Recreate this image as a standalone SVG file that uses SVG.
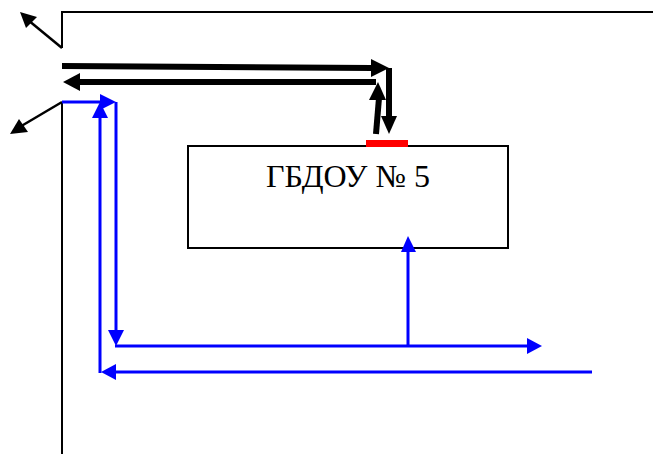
<svg xmlns="http://www.w3.org/2000/svg" width="653" height="454" viewBox="0 0 653 454">
<style>
.k{fill:none;stroke:#000;stroke-width:2}
.d{fill:none;stroke:#000;stroke-width:2.5}
.h{fill:none;stroke:#000;stroke-width:6}
.b{fill:none;stroke:#00f;stroke-width:3}
.ah{fill:#00f}
.ak{fill:#000}
text{font-family:"Liberation Serif","Times New Roman",serif;font-size:32px;fill:#000}
</style>
<rect width="653" height="454" fill="#fff"/>
<g id="walls">
<path class="k" d="M653 12H62V48"/>
<path class="d" d="M62 48L28 20"/>
<path class="k" d="M62 454V102"/>
<path class="d" d="M62 102L18 128"/>
<polygon class="ak" points="20,12 37,17 26,28"/>
<polygon class="ak" points="10,134 19,119 28,132"/>
</g>
<g id="node-gbdou">
<rect x="188" y="146" width="320" height="102" fill="none" stroke="#000" stroke-width="2"/>
<text x="348" y="187" text-anchor="middle">ГБДОУ № 5</text>
<rect x="366" y="140" width="42" height="7" fill="#f00"/>
</g>
<g id="connectors">
<path class="h" d="M62 66L372 68"/>
<polygon class="ak" points="371,59 389,68 371,77"/>
<path class="h" d="M78 82H376"/>
<polygon class="ak" points="63,82 80,73 80,91"/>
<path class="h" d="M376 134L379 98"/>
<polygon class="ak" points="369,100 378,82 386,100"/>
<path class="h" d="M389 68V120"/>
<polygon class="ak" points="381,116 397,116 389,134"/>
<path class="b" d="M62 102H104"/>
<polygon class="ah" points="100,94 116,102 100,110"/>
<path class="b" d="M116 102V330"/>
<polygon class="ah" points="108,330 124,330 116,346"/>
<path class="b" d="M115 346H528"/>
<polygon class="ah" points="527,338 542,346 527,354"/>
<path class="b" d="M408 346V250"/>
<polygon class="ah" points="401,252 408,236 416,252"/>
<path class="b" d="M592 372H114"/>
<polygon class="ah" points="116,364 116,380 101,372"/>
<path class="b" d="M100 373V116"/>
<polygon class="ah" points="92,118 100,102 108,118"/>
</g>
</svg>
